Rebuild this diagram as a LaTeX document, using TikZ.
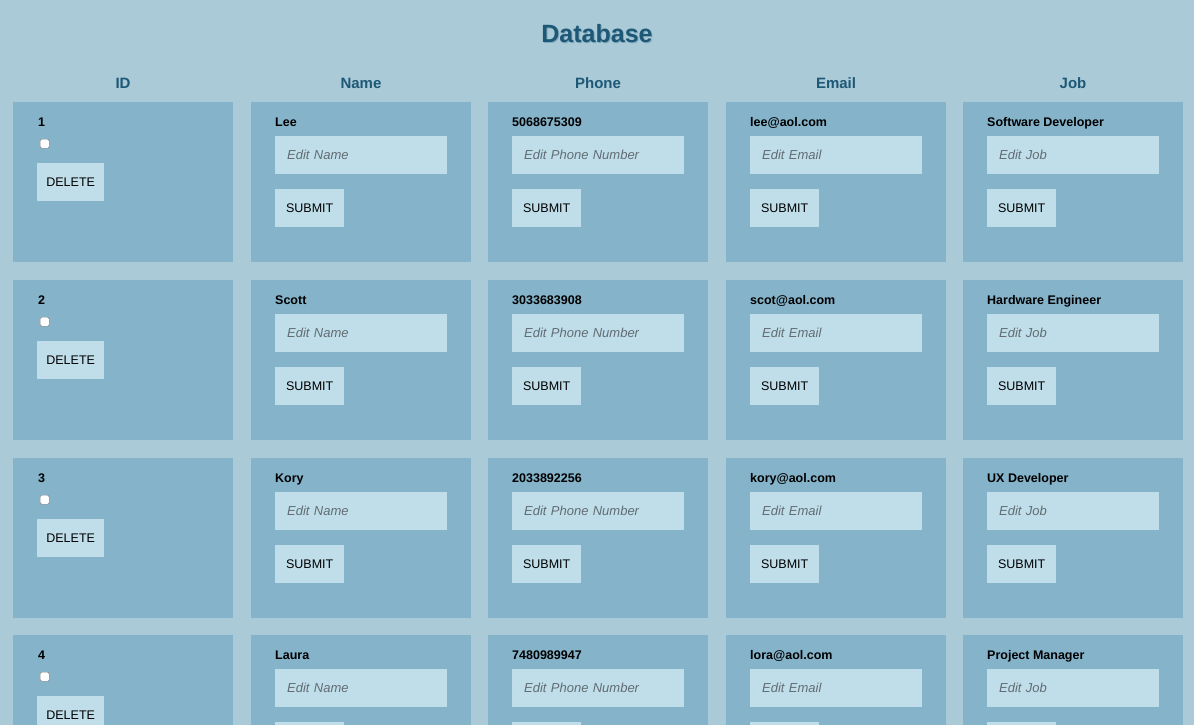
\documentclass[tikz,border=0pt]{standalone}
\usepackage{fontspec}
\setmainfont{Liberation Sans}

\definecolor{pagebg}{RGB}{170,202,215}
\definecolor{cardbg}{RGB}{132,179,202}
\definecolor{fieldbg}{RGB}{191,222,234}
\definecolor{headblue}{RGB}{29,88,118}
\definecolor{hintgray}{RGB}{98,108,114}

\tikzset{
  card/.style={fill=cardbg, anchor=north west, inner sep=0pt,
    minimum width=220pt, minimum height=160pt},
  field/.style={fill=fieldbg, anchor=north west, inner xsep=12pt, inner ysep=0pt,
    text width=148pt, minimum height=38pt, align=left, text=hintgray,
    font=\fontsize{13}{15}\selectfont\itshape},
  button/.style={fill=fieldbg, anchor=north west, inner sep=0pt,
    minimum height=38pt, font=\fontsize{12.5}{15}\selectfont},
  value/.style={anchor=base west, inner sep=0pt,
    font=\fontsize{12.5}{15}\selectfont\bfseries},
  checkbox/.style={fill=white, draw=gray, anchor=north west, inner sep=0pt,
    minimum size=9pt, rounded corners=1.5pt},
  colhead/.style={text=headblue, font=\fontsize{15}{18}\selectfont\bfseries},
  title/.style={text=headblue, font=\fontsize{25}{30}\selectfont\bfseries}
}

\begin{document}
\begin{tikzpicture}[x=1pt, y=-1pt]
  % Page
  \useasboundingbox (0,0) rectangle (1194,725);
  \clip (0,0) rectangle (1194,725);
  \fill[pagebg] (0,0) rectangle (1194,725);

  % Title
  \node[title, text=headblue!30!pagebg] (title-shadow) at (598,35) {Database};
  \node[title] (title) at (597,34) {Database};

  % Column headings
  \node[colhead] (head-id) at (123,83) {ID};
  \node[colhead] (head-name) at (361,83) {Name};
  \node[colhead] (head-phone) at (598,83) {Phone};
  \node[colhead] (head-email) at (836,83) {Email};
  \node[colhead] (head-job) at (1073,83) {Job};

  % One row of cards per record
  \foreach \r/\ry/\name/\phone/\mail/\job in {
      1/102/Lee/5068675309/lee@aol.com/Software Developer,
      2/280/Scott/3033683908/scot@aol.com/Hardware Engineer,
      3/458/Kory/2033892256/kory@aol.com/UX Developer,
      4/635/Laura/7480989947/lora@aol.com/Project Manager} {

    % ID card
    \node[card] (card-\r-1) at (13,\ry) {};
    \node[value] (value-\r-1) at (38,{\ry+24}) {\r};
    \node[checkbox] (check-\r) at (40,{\ry+37}) {};
    \node[button, minimum width=67pt] (delete-\r) at (37,{\ry+61}) {DELETE};

    % Editable cards (last row runs off the page below its buttons' tops)
    \foreach \c/\cx/\val/\hint in {2/251/\name/Edit Name, 3/488/\phone/Edit Phone Number,
        4/726/\mail/Edit Email, 5/963/\job/Edit Job} {
      \node[card] (card-\r-\c) at (\cx,\ry) {};
      \node[value] (value-\r-\c) at ({\cx+24},{\ry+24}) {\val};
      \node[field] (field-\r-\c) at ({\cx+24},{\ry+34}) {\hint};
      \node[button, minimum width=69pt] (submit-\r-\c) at ({\cx+24},{\ry+87})
        {\ifnum\r<4 SUBMIT\fi};
    }
  }
\end{tikzpicture}
\end{document}
